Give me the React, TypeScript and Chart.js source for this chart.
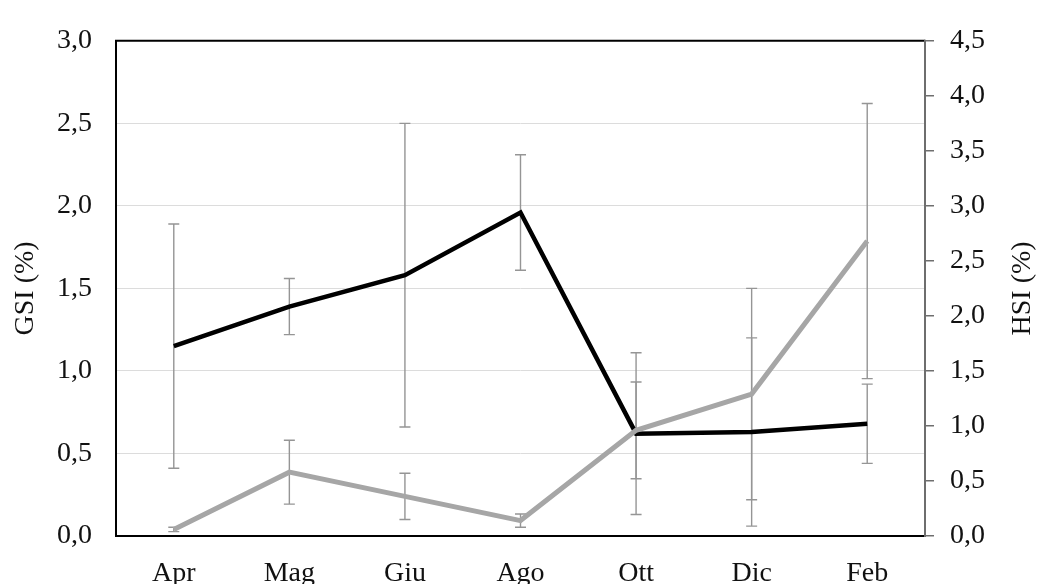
import React, { useEffect, useRef } from "react";
import { Chart, registerables } from "chart.js";

Chart.register(...registerables);

// Sampling months
const months = ["Apr", "Mag", "Giu", "Ago", "Ott", "Dic", "Feb"];

// Gonadosomatic index (%) – mean and standard deviation
const gsiMean = [1.15, 1.39, 1.58, 1.96, 0.62, 0.63, 0.68];
const gsiSd = [0.74, 0.17, 0.92, 0.35, 0.49, 0.57, 0.24];

// Hepatosomatic index (%) – mean and standard deviation
const hsiMean = [0.06, 0.58, 0.36, 0.14, 0.96, 1.29, 2.68];
const hsiSd = [0.02, 0.29, 0.21, 0.06, 0.44, 0.96, 1.25];

const FONT = "'Liberation Serif', 'Times New Roman', serif";
const FONT_SIZE = 28;
const fmt = (v: number) => v.toFixed(1).replace(".", ",");

// Vertical error bars with caps, drawn below the lines
const errorBars = {
  id: "errorBars",
  beforeDatasetsDraw(chart: any) {
    const { ctx } = chart;
    const sets = [
      { mean: gsiMean, sd: gsiSd, axis: "y" },
      { mean: hsiMean, sd: hsiSd, axis: "y1" },
    ];
    ctx.save();
    ctx.strokeStyle = "#959595";
    ctx.lineWidth = 1.4;
    for (const s of sets) {
      const yScale = chart.scales[s.axis];
      s.mean.forEach((m, i) => {
        const x = chart.scales.x.getPixelForValue(i);
        const yTop = yScale.getPixelForValue(m + s.sd[i]);
        const yBot = yScale.getPixelForValue(m - s.sd[i]);
        ctx.beginPath();
        ctx.moveTo(x, yTop);
        ctx.lineTo(x, yBot);
        ctx.moveTo(x - 5.5, yTop);
        ctx.lineTo(x + 5.5, yTop);
        ctx.moveTo(x - 5.5, yBot);
        ctx.lineTo(x + 5.5, yBot);
        ctx.stroke();
      });
    }
    ctx.restore();
  },
};

// Plot frame and the right-hand axis title (read bottom to top)
const frame = {
  id: "frame",
  afterDatasetsDraw(chart: any) {
    const { ctx, chartArea: a } = chart;
    ctx.save();
    ctx.lineWidth = 2;
    ctx.strokeStyle = "#000000";
    ctx.beginPath();
    ctx.moveTo(a.right, a.top);
    ctx.lineTo(a.left, a.top);
    ctx.lineTo(a.left, a.bottom);
    ctx.lineTo(a.right, a.bottom);
    ctx.stroke();
    ctx.strokeStyle = "#6e6e6e";
    ctx.beginPath();
    ctx.moveTo(a.right, a.top - 1);
    ctx.lineTo(a.right, a.bottom + 1);
    ctx.stroke();
    ctx.restore();
  },
  afterDraw(chart: any) {
    const { ctx, chartArea: a } = chart;
    const r = chart.scales.y1;
    ctx.save();
    ctx.translate(r.right - 20, (a.top + a.bottom) / 2);
    ctx.rotate(-Math.PI / 2);
    ctx.font = `${FONT_SIZE}px ${FONT}`;
    ctx.fillStyle = "#111111";
    ctx.textAlign = "center";
    ctx.textBaseline = "middle";
    ctx.fillText("HSI (%)", 0, 0);
    ctx.restore();
  },
};

export default function App() {
  const ref = useRef<HTMLCanvasElement>(null);

  useEffect(() => {
    if (!ref.current) return;
    const chart = new Chart(ref.current, {
      type: "line",
      data: {
        labels: months,
        datasets: [
          {
            label: "HSI",
            data: hsiMean,
            yAxisID: "y1",
            borderColor: "#a6a6a6",
            borderWidth: 5,
            pointRadius: 0,
            tension: 0,
            order: 0,
          },
          {
            label: "GSI",
            data: gsiMean,
            yAxisID: "y",
            borderColor: "#000000",
            borderWidth: 4.5,
            pointRadius: 0,
            tension: 0,
            order: 1,
          },
        ],
      },
      options: {
        responsive: false,
        animation: false,
        layout: { padding: { top: 24, left: 0, right: 0, bottom: 0 } },
        plugins: {
          legend: { display: false },
          tooltip: { enabled: false },
        },
        scales: {
          x: {
            type: "category",
            offset: true,
            grid: { display: false, drawTicks: false },
            border: { display: false },
            ticks: {
              color: "#111111",
              font: { family: FONT, size: FONT_SIZE },
              padding: 21,
              maxRotation: 0,
              autoSkip: false,
            },
            afterFit(scale: any) {
              scale.height = 48;
            },
          },
          y: {
            position: "left",
            min: 0,
            max: 3,
            grid: { color: "#dcdcdc", lineWidth: 1, drawTicks: false },
            border: { display: false },
            ticks: {
              stepSize: 0.5,
              color: "#111111",
              font: { family: FONT, size: FONT_SIZE },
              padding: 24,
              callback: (v: any) => fmt(Number(v)),
            },
            title: {
              display: true,
              text: "GSI (%)",
              color: "#111111",
              font: { family: FONT, size: FONT_SIZE, lineHeight: 1.2 },
              padding: { top: 9, bottom: 0 },
            },
            afterFit(scale: any) {
              scale.width = 116;
            },
          },
          y1: {
            position: "right",
            min: 0,
            max: 4.5,
            grid: {
              drawOnChartArea: false,
              drawTicks: true,
              tickLength: 9,
              color: "#6e6e6e",
              lineWidth: 1.5,
            },
            border: { display: false },
            ticks: {
              stepSize: 0.5,
              color: "#111111",
              font: { family: FONT, size: FONT_SIZE },
              padding: 16,
              callback: (v: any) => fmt(Number(v)),
            },
            afterFit(scale: any) {
              scale.width = 118;
            },
          },
        },
      },
      plugins: [errorBars, frame],
    });
    return () => chart.destroy();
  }, []);

  return (
    <div style={{ position: "fixed", left: 0, top: 0, width: 1043, height: 584, background: "#ffffff" }}>
      <canvas ref={ref} width={1043} height={584} />
    </div>
  );
}
